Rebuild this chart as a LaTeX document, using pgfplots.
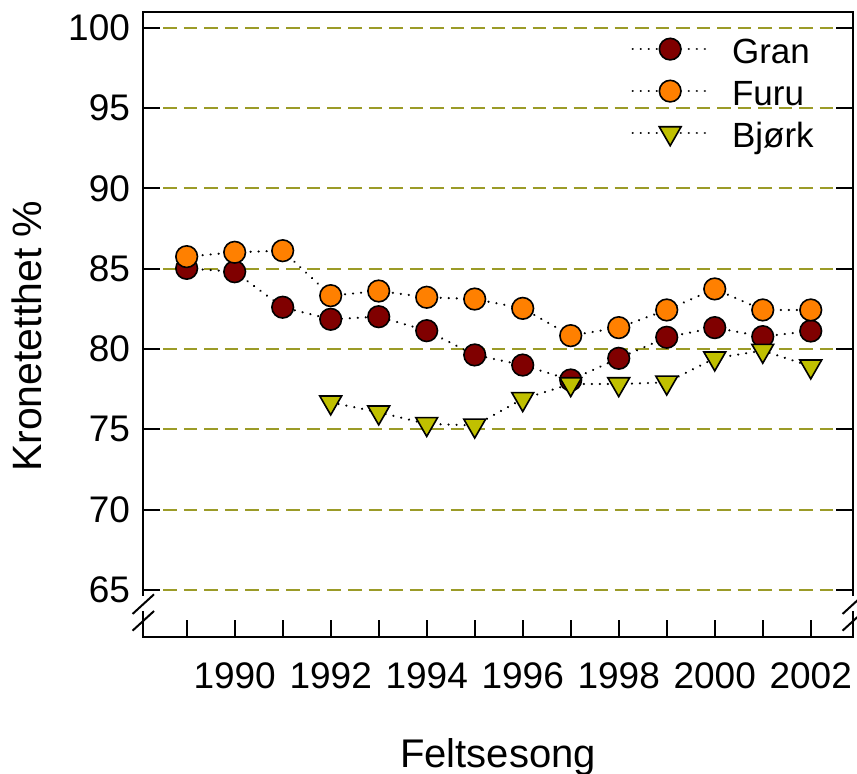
\documentclass[border=0pt]{standalone}
\usepackage{fontspec}
\setmainfont{Liberation Sans}
\usepackage{pgfplots}
\pgfplotsset{compat=1.18}
\definecolor{gran}{RGB}{128,0,0}
\definecolor{furu}{RGB}{255,128,0}
\definecolor{bjork}{RGB}{192,192,0}
\definecolor{gridol}{RGB}{155,155,40}
\begin{document}
\begin{tikzpicture}
\useasboundingbox (-71.5pt,-68.65pt) rectangle (357pt,318.35pt);
\begin{axis}[
 name=ax,
 scale only axis, width=355pt, height=312.35pt,
 xmin=1988.09, xmax=2002.88, ymin=62.09, ymax=100.98,
 axis line style={draw=none},
 xtick={1990,1992,...,2002}, minor xtick={1989,1991,...,2001},
 ytick={65,70,...,100},
 xtick pos=bottom, ytick pos=both,
 tick align=inside,
 major tick length=8.5pt, minor tick length=8.5pt,
 tick style={black, line width=1pt},
 ymajorgrids,
 major grid style={gridol, line width=1pt, dash pattern=on 6.75pt off 3.5pt},
 /pgf/number format/assume math mode=true,
 /pgf/number format/1000 sep={},
 ticklabel style={font=\fontsize{18.5}{22}\selectfont},
 xticklabel style={anchor=base, yshift=-25.8pt},
 yticklabel style={xshift=-3pt},
 xlabel={Feltsesong}, ylabel={Kronetetthet \%},
 xlabel style={font=\fontsize{20}{24}\selectfont, at={(axis description cs:0.5,-0.209)}, anchor=base},
 ylabel style={font=\fontsize{20.5}{24}\selectfont, at={(axis description cs:-0.1423,0.481)}, anchor=base},
 legend style={draw=none, fill=none, at={(axis description cs:0.688,0.959)}, anchor=north west,
   inner sep=0pt, outer sep=0pt, row sep=3.5pt, column sep=11.6pt,
   nodes={inner sep=0pt, text height=13pt, text depth=4.5pt, font=\fontsize{17.5}{21}\selectfont}},
 legend cell align=left,
 legend image code/.code={\draw[mark repeat=2,mark phase=2,#1] plot coordinates {(0pt,3pt) (18.75pt,3pt) (37.5pt,3pt)};},
 every axis plot/.append style={black, line width=1.2pt, line cap=round, dash pattern=on 0.01pt off 4pt},
]
\addplot[mark=*, mark size=5.4pt, mark options={solid, fill=gran, draw=black, line width=0.8pt}]
 coordinates {(1989,85.02) (1990,84.81) (1991,82.6) (1992,81.85) (1993,82.01) (1994,81.14) (1995,79.63) (1996,79.0) (1997,78.07) (1998,79.42) (1999,80.73) (2000,81.33) (2001,80.77) (2002,81.12)};
\addlegendentry{Gran}
\addplot[mark=*, mark size=5.4pt, mark options={solid, fill=furu, draw=black, line width=0.8pt}]
 coordinates {(1989,85.75) (1990,86.02) (1991,86.12) (1992,83.32) (1993,83.61) (1994,83.22) (1995,83.11) (1996,82.53) (1997,80.83) (1998,81.33) (1999,82.43) (2000,83.74) (2001,82.43) (2002,82.43)};
\addlegendentry{Furu}
\addplot[mark=triangle*, mark size=6.3pt, mark options={solid, rotate=180, fill=bjork, draw=black, line width=0.8pt}]
 coordinates {(1992,76.68) (1993,76.06) (1994,75.34) (1995,75.24) (1996,76.89) (1997,77.82) (1998,77.82) (1999,77.92) (2000,79.42) (2001,79.9) (2002,78.92)};
\addlegendentry{Bjørk}
\end{axis}
\begin{scope}[line width=1pt, line cap=rect]
\draw (ax.south west) -- (ax.south east);
\draw (ax.south west) -- ++(0,12.5pt);
\draw (ax.south east) -- ++(0,12.5pt);
\draw ([yshift=20.85pt]ax.south west) -- (ax.north west) -- (ax.north east) -- ([yshift=20.85pt]ax.south east);
\draw ([shift={(-4.85pt,11.7pt)}]ax.south west) -- ++(10pt,9.15pt);
\draw ([shift={(-4.85pt,3.35pt)}]ax.south west) -- ++(10pt,9.15pt);
\draw ([shift={(-4.85pt,11.7pt)}]ax.south east) -- ++(10pt,9.15pt);
\draw ([shift={(-4.85pt,3.35pt)}]ax.south east) -- ++(10pt,9.15pt);
\end{scope}
\end{tikzpicture}
\end{document}
